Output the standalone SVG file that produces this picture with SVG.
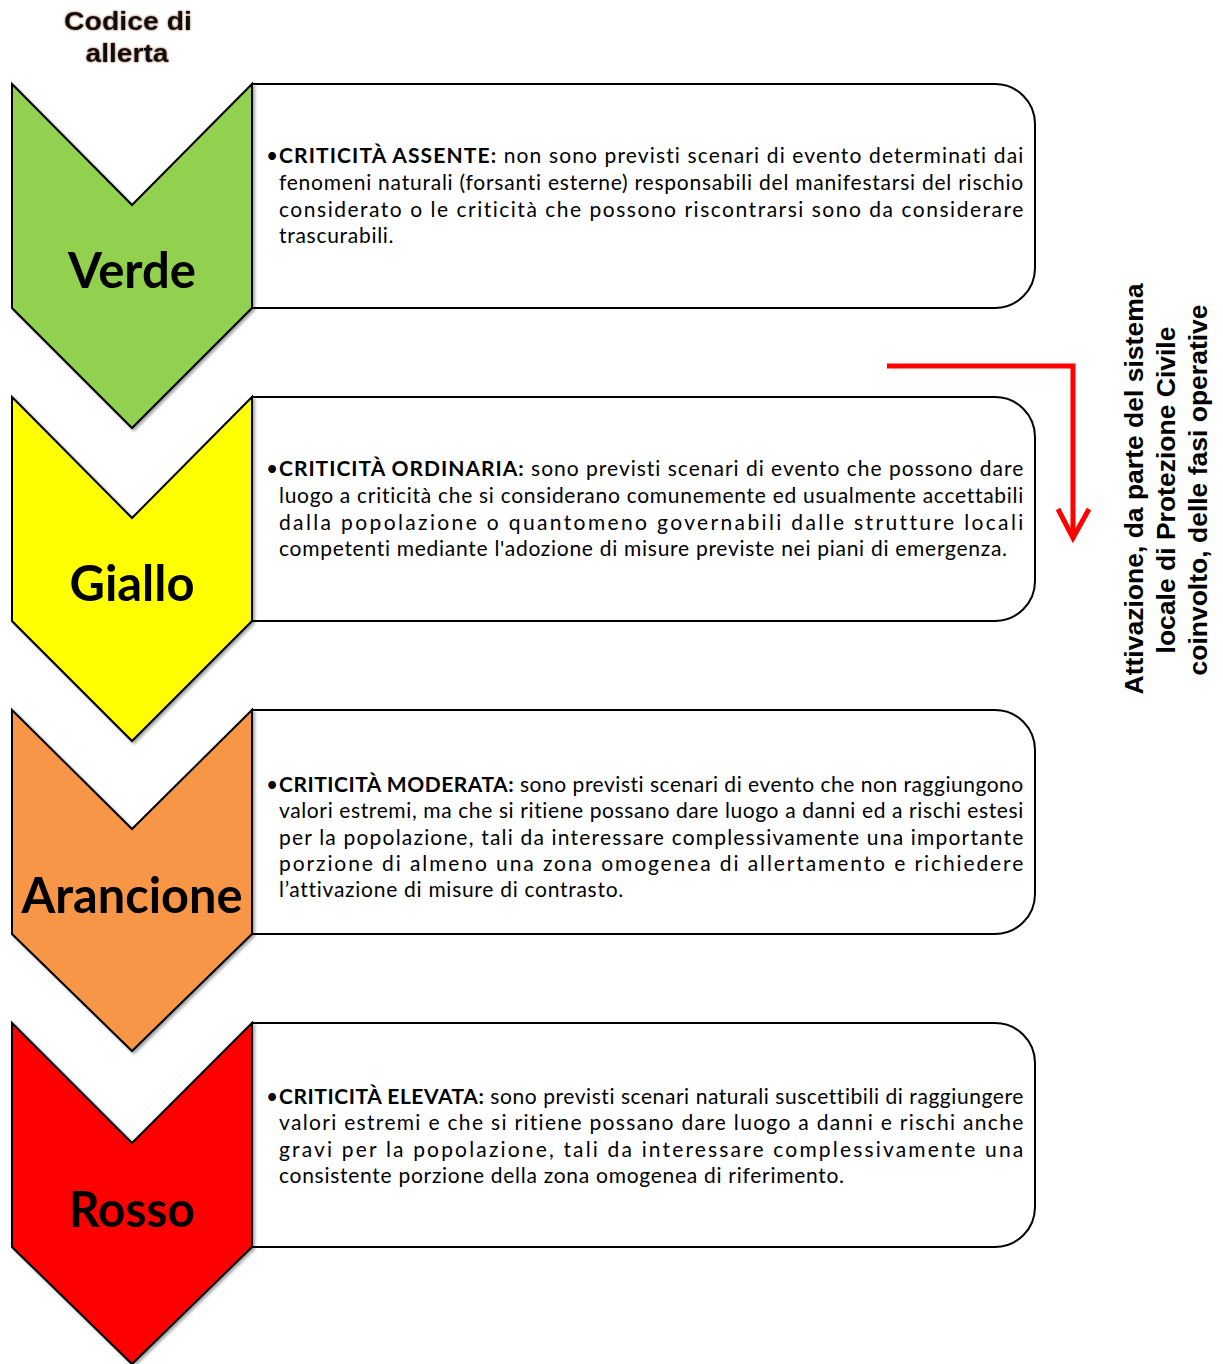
<svg xmlns="http://www.w3.org/2000/svg" width="1223" height="1364" viewBox="0 0 1223 1364">
<defs>
<filter id="sh" x="-10%" y="-10%" width="130%" height="130%">
<feDropShadow dx="2" dy="2" stdDeviation="1.5" flood-color="#000" flood-opacity="0.35"/>
</filter>
<filter id="ts" x="-10%" y="-20%" width="120%" height="140%">
<feDropShadow dx="0" dy="0" stdDeviation="1" flood-color="#7a2a10" flood-opacity="0.8"/>
</filter>
</defs>
<style>
.box{fill:#fff;stroke:#000;stroke-width:2}
.chev{stroke:#000;stroke-width:2;stroke-linejoin:miter}
.lbl{font-family:Lato,"Liberation Sans",sans-serif;font-weight:bold;font-size:50px;fill:#000;text-anchor:middle}
.t{font-family:Lato,"Liberation Sans",sans-serif;font-size:21px;letter-spacing:0.72px;fill:#000;font-variant-ligatures:none}
.b{font-weight:bold}
.side{font-family:"Liberation Sans",Arial,sans-serif;font-weight:bold;font-size:26.5px;fill:#000;text-anchor:middle}
.head{font-family:"Liberation Sans",Arial,sans-serif;font-weight:bold;font-size:26px;fill:#111;text-anchor:middle}
.arrow{fill:none;stroke:#ff0000;stroke-width:5}
</style>
<rect width="1223" height="1364" fill="#fff"/>
<g id="header">
<text class="head" x="128" y="30" textLength="128" lengthAdjust="spacingAndGlyphs" filter="url(#ts)">Codice di</text>
<text class="head" x="127" y="62" textLength="83" lengthAdjust="spacingAndGlyphs" filter="url(#ts)">allerta</text>
</g>
<g id="verde">
<path class="box" d="M252,84 H995 A40,40 0 0 1 1035,124 V268 A40,40 0 0 1 995,308 H252 Z"/>
<path class="chev" fill="#92d050" filter="url(#sh)" d="M12,84 L132,205 L252,84 V308 L132,428 L12,308 Z"/>
<text class="lbl" x="132" y="288" textLength="128" lengthAdjust="spacingAndGlyphs">Verde</text>
<text class="t" x="266" y="163">•</text>
<text class="t" x="279" y="163" textLength="745" lengthAdjust="spacing"><tspan class="b">CRITICITÀ ASSENTE:</tspan> non sono previsti scenari di evento determinati dai</text>
<text class="t" x="279" y="190" textLength="745" lengthAdjust="spacing">fenomeni naturali (forsanti esterne) responsabili del manifestarsi del rischio</text>
<text class="t" x="279" y="217" textLength="745" lengthAdjust="spacing">considerato o le criticità che possono riscontrarsi sono da considerare</text>
<text class="t" x="279" y="243">trascurabili.</text>
</g>
<g id="giallo">
<path class="box" d="M252,397 H995 A40,40 0 0 1 1035,437 V581 A40,40 0 0 1 995,621 H252 Z"/>
<path class="chev" fill="#ffff00" filter="url(#sh)" d="M12,397 L132,518 L252,397 V621 L132,741 L12,621 Z"/>
<text class="lbl" x="132" y="601" textLength="125" lengthAdjust="spacingAndGlyphs">Giallo</text>
<text class="t" x="266" y="476">•</text>
<text class="t" x="279" y="476" textLength="745" lengthAdjust="spacing"><tspan class="b">CRITICITÀ ORDINARIA:</tspan> sono previsti scenari di evento che possono dare</text>
<text class="t" x="279" y="503" textLength="745" lengthAdjust="spacing">luogo a criticità che si considerano comunemente ed usualmente accettabili</text>
<text class="t" x="279" y="530" textLength="745" lengthAdjust="spacing">dalla popolazione o quantomeno governabili dalle strutture locali</text>
<text class="t" x="279" y="556">competenti mediante l'adozione di misure previste nei piani di emergenza.</text>
</g>
<g id="arancione">
<path class="box" d="M252,710 H995 A40,40 0 0 1 1035,750 V894 A40,40 0 0 1 995,934 H252 Z"/>
<path class="chev" fill="#f79646" filter="url(#sh)" d="M12,710 L132,829 L252,710 V934 L132,1051 L12,934 Z"/>
<text class="lbl" x="132" y="913" textLength="221" lengthAdjust="spacingAndGlyphs">Arancione</text>
<text class="t" x="266" y="792">•</text>
<text class="t" x="279" y="792" textLength="745" lengthAdjust="spacing"><tspan class="b">CRITICITÀ MODERATA:</tspan> sono previsti scenari di evento che non raggiungono</text>
<text class="t" x="279" y="818" textLength="745" lengthAdjust="spacing">valori estremi, ma che si ritiene possano dare luogo a danni ed a rischi estesi</text>
<text class="t" x="279" y="845" textLength="745" lengthAdjust="spacing">per la popolazione, tali da interessare complessivamente una importante</text>
<text class="t" x="279" y="871" textLength="745" lengthAdjust="spacing">porzione di almeno una zona omogenea di allertamento e richiedere</text>
<text class="t" x="279" y="897">l’attivazione di misure di contrasto.</text>
</g>
<g id="rosso">
<path class="box" d="M252,1023 H995 A40,40 0 0 1 1035,1063 V1207 A40,40 0 0 1 995,1247 H252 Z"/>
<path class="chev" fill="#ff0000" filter="url(#sh)" d="M12,1023 L132,1143 L252,1023 V1247 L132,1364 L12,1247 Z"/>
<text class="lbl" x="132" y="1227" textLength="126" lengthAdjust="spacingAndGlyphs">Rosso</text>
<text class="t" x="266" y="1104">•</text>
<text class="t" x="279" y="1104" textLength="745" lengthAdjust="spacing"><tspan class="b">CRITICITÀ ELEVATA:</tspan> sono previsti scenari naturali suscettibili di raggiungere</text>
<text class="t" x="279" y="1130" textLength="745" lengthAdjust="spacing">valori estremi e che si ritiene possano dare luogo a danni e rischi anche</text>
<text class="t" x="279" y="1157" textLength="745" lengthAdjust="spacing">gravi per la popolazione, tali da interessare complessivamente una</text>
<text class="t" x="279" y="1183">consistente porzione della zona omogenea di riferimento.</text>
</g>
<g id="connectors">
<path class="arrow" d="M887,366 H1073 V538"/>
<path class="arrow" d="M1058,509 L1073,538 L1089,509"/>
</g>
<g id="side-label">
<text class="side" transform="translate(1143,489) rotate(-90)">Attivazione, da parte del sistema</text>
<text class="side" transform="translate(1175,490) rotate(-90)">locale di Protezione Civile</text>
<text class="side" transform="translate(1207,490) rotate(-90)">coinvolto, delle fasi operative</text>
</g>
</svg>
